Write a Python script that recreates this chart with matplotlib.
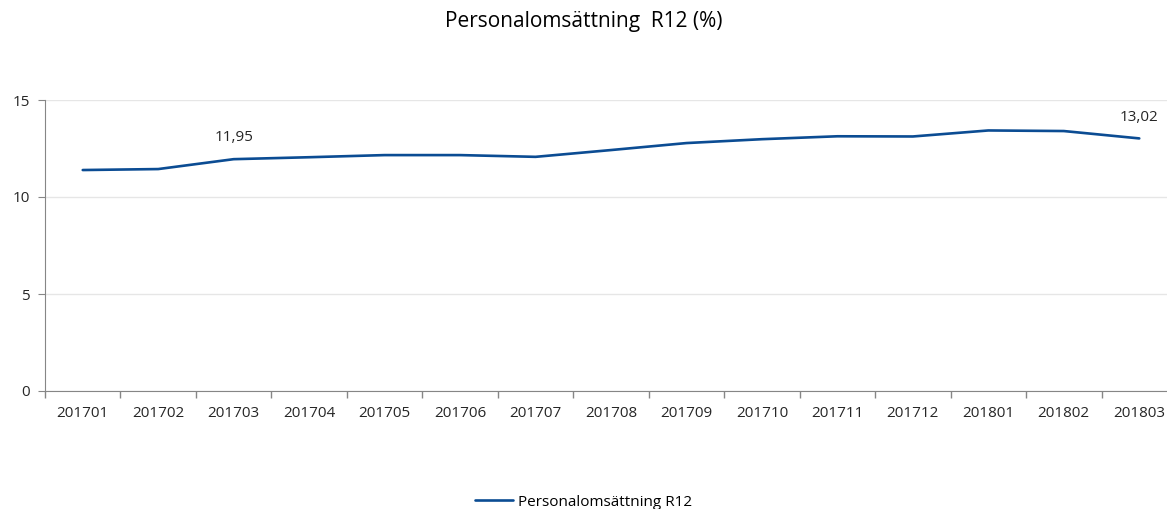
import numpy as np
import matplotlib
matplotlib.use("Agg")
import matplotlib.pyplot as plt

# ====== data ======
months = ["201701", "201702", "201703", "201704", "201705", "201706", "201707",
          "201708", "201709", "201710", "201711", "201712", "201801", "201802", "201803"]
omsattning = [11.39, 11.44, 11.95, 12.05, 12.16, 12.16, 12.07,
              12.42, 12.78, 12.98, 13.13, 13.12, 13.43, 13.40, 13.02]
label_idx = [2, 14]
series_name = "Personalomsättning R12"
title = "Personalomsättning  R12 (%)"

plt.rcParams["font.family"] = ["Open Sans", "DejaVu Sans"]
LINE_C = "#0B4C93"
TXT_C = "#262626"

W, H = 1167, 509
fig = plt.figure(figsize=(W / 100, H / 100), dpi=100)
ax = fig.add_axes([45 / W, 118 / H, 1132 / W, 291 / H])

x = np.arange(len(months))
ax.plot(x, omsattning, color=LINE_C, lw=1.9, label=series_name, solid_capstyle="round")

for i in label_idx:
    ax.annotate(f"{omsattning[i]:.2f}".replace(".", ","), (x[i], omsattning[i]),
                xytext=(0, 10), textcoords="offset points", ha="center", va="bottom",
                fontsize=11, color=TXT_C)

ax.set_xlim(-0.5, len(months) - 0.5)
ax.set_ylim(0, 15)
ax.set_yticks([0, 5, 10, 15])
ax.set_xticks(x)
ax.set_xticklabels(months)
ax.set_xticks(np.arange(-0.5, len(months)), minor=True)
ax.tick_params(axis="x", which="major", length=0, pad=11, labelsize=11, labelcolor=TXT_C)
ax.tick_params(axis="x", which="minor", length=5, color="#868686", width=1)
ax.tick_params(axis="y", length=5, color="#868686", labelsize=11, labelcolor=TXT_C, pad=6)

ax.grid(axis="y", color="#E6E6E6", lw=1)
ax.set_axisbelow(True)
for s in ["top", "right"]:
    ax.spines[s].set_visible(False)
for s in ["left", "bottom"]:
    ax.spines[s].set_color("#868686")

fig.text(0.5, 1 - 22 / H, title, ha="center", va="center", fontsize=15, color="black")

fig.legend(loc="center", bbox_to_anchor=(0.5, 1 - 502 / H), frameon=False, fontsize=11,
           handlelength=2.5, handletextpad=0.3)

fig.savefig("out.png", dpi=100)
